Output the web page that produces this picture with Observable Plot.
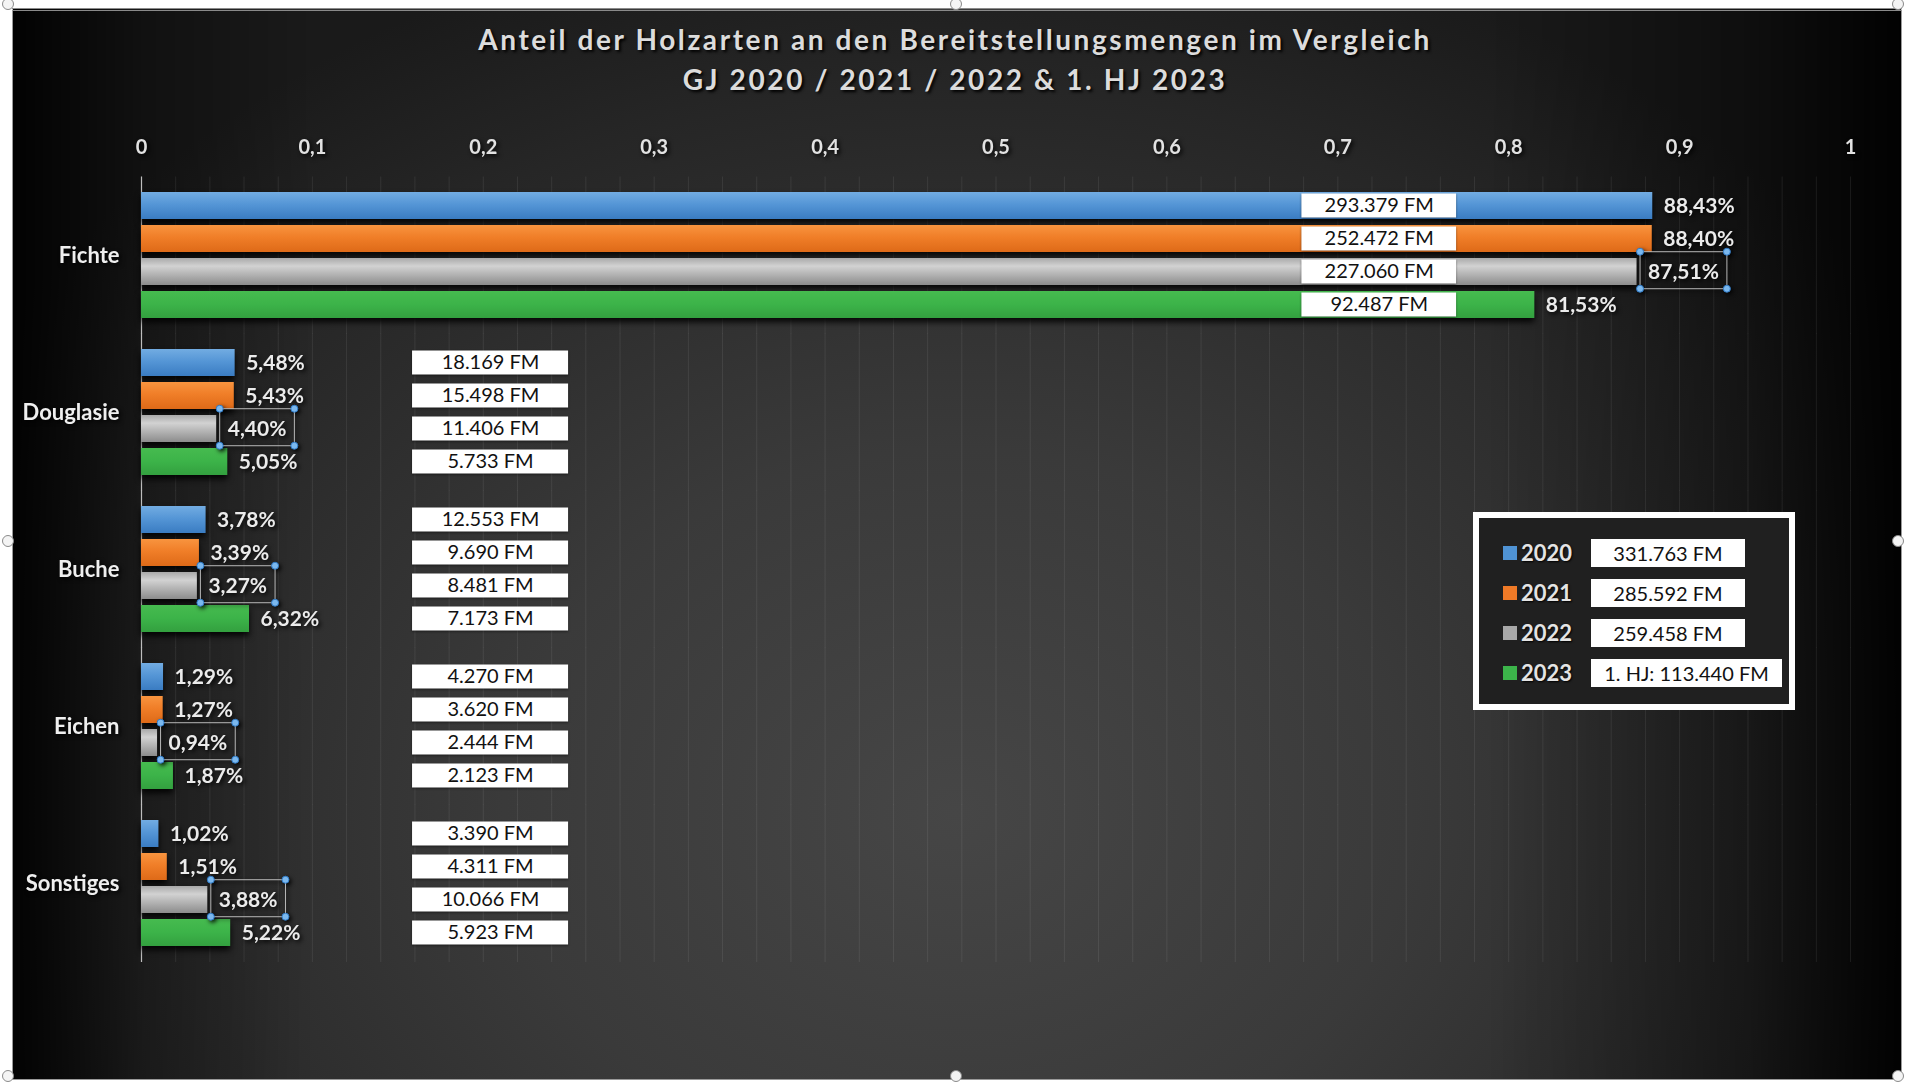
<!DOCTYPE html>
<html>
<head>
<meta charset="utf-8">
<script src="https://cdn.jsdelivr.net/npm/d3@7"></script>
<script src="https://cdn.jsdelivr.net/npm/@observablehq/plot@0.6"></script>
<style>
html, body { margin: 0; padding: 0; background: #fff; }
#page { position: relative; width: 1910px; height: 1086px; overflow: hidden; background: #fff; font-family: Lato, "Open Sans", sans-serif; }
#frame { position: absolute; left: 12px; top: 8px; width: 1890px; height: 1072px; box-sizing: border-box; border-top: 3px double #8a8a8a; border-left: 1px solid #9a9a9a; border-right: 1px solid #9a9a9a; border-bottom: 1px solid #9a9a9a;
  background:
    linear-gradient(to right, rgba(0,0,0,0.92) 0%, rgba(0,0,0,0.35) 7%, rgba(0,0,0,0) 16%, rgba(0,0,0,0) 78%, rgba(0,0,0,0.45) 92%, rgba(0,0,0,0.95) 100%),
    radial-gradient(ellipse 60% 85% at 50% 75%, #464646 0%, #3a3a3a 40%, #262626 80%, #1a1a1a 100%);
}
#title { position: absolute; left: 0; top: 19px; width: 1910px; text-align: center; color: #dcdcdc; font-weight: 700; font-size: 28px; letter-spacing: 2.6px; line-height: 40px; text-shadow: 2px 2px 3px #000; }
#chart { position: absolute; left: 0; top: 100px; }
#legend { position: absolute; left: 1473px; top: 512px; width: 322px; height: 198px; box-sizing: border-box; border: 6px solid #fff; background: #202020; }
.lrow { position: absolute; left: 0; height: 28px; }
.lsq { position: absolute; left: 24px; top: 7px; width: 14px; height: 14px; }
.lyr { position: absolute; left: 42px; top: 0; line-height: 28px; font-weight: 700; font-size: 22px; color: #e4e4e4; text-shadow: 1px 1px 2px #000; }
.lbox { position: absolute; left: 112px; top: 0; height: 28px; background: #fff; color: #111; font-size: 20px; line-height: 28px; text-align: center; }
.handle { position: absolute; width: 10px; height: 10px; border-radius: 50%; background: #f4f4f4; border: 1px solid #8a8a8a; }
g[aria-label="bar"] rect { filter: drop-shadow(0px 4px 3px rgba(0,0,0,0.9)); }
g[aria-description="fmbox"] rect { filter: drop-shadow(0px 1px 1px rgba(0,0,0,0.5)); }
g[aria-description="pct"], g[aria-description="pct-sel"] { filter: drop-shadow(2px 2px 2px rgba(0,0,0,0.9)); }
g[aria-label="x-axis tick label"] , g[aria-label="fy-axis tick label"] { filter: drop-shadow(2px 2px 2px rgba(0,0,0,0.9)); }
</style>
</head>
<body>
<svg width="0" height="0" style="position:absolute">
  <defs>
    <linearGradient id="g2020" x1="0" y1="0" x2="0" y2="1">
      <stop offset="0" stop-color="#72ace2"/><stop offset="0.45" stop-color="#5596d6"/><stop offset="1" stop-color="#3a7cc2"/>
    </linearGradient>
    <linearGradient id="g2021" x1="0" y1="0" x2="0" y2="1">
      <stop offset="0" stop-color="#f8943f"/><stop offset="0.45" stop-color="#f07e28"/><stop offset="1" stop-color="#de6a18"/>
    </linearGradient>
    <linearGradient id="g2022" x1="0" y1="0" x2="0" y2="1">
      <stop offset="0" stop-color="#a9a9a9"/><stop offset="0.3" stop-color="#d2d2d2"/><stop offset="1" stop-color="#8c8c8c"/>
    </linearGradient>
    <linearGradient id="g2023" x1="0" y1="0" x2="0" y2="1">
      <stop offset="0" stop-color="#46bb4f"/><stop offset="0.5" stop-color="#3cb349"/><stop offset="1" stop-color="#33a03f"/>
    </linearGradient>
  </defs>
</svg>
<div id="page">
  <div id="frame"></div>
  <div id="title">Anteil der Holzarten an den Bereitstellungsmengen im Vergleich<br>GJ 2020 / 2021 / 2022 &amp; 1. HJ 2023</div>
  <div id="chart"></div>
  <div id="legend"></div>
</div>
<script>
// ---- data ----
const categories = ["Fichte", "Douglasie", "Buche", "Eichen", "Sonstiges"];
const years = ["2020", "2021", "2022", "2023"];
const share2020 = [0.8843, 0.0548, 0.0378, 0.0129, 0.0102];
const share2021 = [0.8840, 0.0543, 0.0339, 0.0127, 0.0151];
const share2022 = [0.8751, 0.0440, 0.0327, 0.0094, 0.0388];
const share2023 = [0.8153, 0.0505, 0.0632, 0.0187, 0.0522];
const fm2020 = [293379, 18169, 12553, 4270, 3390];
const fm2021 = [252472, 15498, 9690, 3620, 4311];
const fm2022 = [227060, 11406, 8481, 2444, 10066];
const fm2023 = [92487, 5733, 7173, 2123, 5923];
const totals = [331763, 285592, 259458, 113440];
const totalPrefix = ["", "", "", "1. HJ: "];
const xTicks = [0, 0.1, 0.2, 0.3, 0.4, 0.5, 0.6, 0.7, 0.8, 0.9, 1];
const gridTicks = d3.range(0, 51).map(i => i / 50);

// ---- build table ----
const shares = [share2020, share2021, share2022, share2023];
const fms = [fm2020, fm2021, fm2022, fm2023];
const rows = categories.flatMap((c, i) => years.map((y, j) => ({cat: c, year: y, share: shares[j][i], fm: fms[j][i]})));

const de = d3.formatLocale({decimal: ",", thousands: ".", grouping: [3], currency: ["", " €"]});
const fmtInt = de.format(",d");
const fmtPct = de.format(".2%");
const fmtTick = d => String(d).replace(".", ",");

// label box placement (layout, in x-scale units)
const boxX1 = d => d.cat === "Fichte" ? 0.679 : 0.1586;
const boxX2 = d => d.cat === "Fichte" ? 0.7695 : 0.2499;
const boxMid = d => (boxX1(d) + boxX2(d)) / 2;

// gridlines drawn in every facet, stretched over the gaps between facets
const gap = 14.5;
const gridMarks = categories.map(c => [
  Plot.ruleX(gridTicks, {fy: () => c, stroke: "#ffffff", strokeOpacity: 0.08, strokeWidth: 1, insetTop: -gap, insetBottom: -gap + 0.5}),
  Plot.ruleX([0], {fy: () => c, stroke: "#bdbdbd", strokeWidth: 1.2, insetTop: -gap, insetBottom: -gap + 0.5})
]);

const chart = Plot.plot({
  width: 1910,
  height: 900,
  marginTop: 74,
  marginBottom: 36,
  marginLeft: 141,
  marginRight: 60,
  style: {background: "transparent", fontFamily: "Lato, 'Open Sans', sans-serif", overflow: "visible"},
  x: {domain: [0, 1]},
  y: {domain: years, paddingInner: 0.17, paddingOuter: 0, axis: null},
  fy: {domain: categories, paddingInner: 0.18, paddingOuter: 0.1},
  color: {domain: years, range: years.map(y => `url(#g${y})`)},
  marks: [
    ...gridMarks.flat(),
    Plot.barX(rows, {x: "share", y: "year", fy: "cat", fill: "year"}),
    Plot.barX(rows, {x1: boxX1, x2: boxX2, y: "year", fy: "cat", fill: "#ffffff", insetTop: 1.5, insetBottom: 1.5, ariaDescription: "fmbox"}),
    Plot.text(rows, {x: boxMid, y: "year", fy: "cat", text: d => fmtInt(d.fm) + " FM", fill: "#111", fontSize: 20, ariaDescription: "fmtext"}),
    Plot.text(rows.filter(d => d.year !== "2022"), {x: "share", y: "year", fy: "cat", text: d => fmtPct(d.share), dx: 11, textAnchor: "start", fill: "#ebebeb", fontWeight: "bold", fontSize: 21, ariaDescription: "pct"}),
    Plot.text(rows.filter(d => d.year === "2022"), {x: "share", y: "year", fy: "cat", text: d => fmtPct(d.share), dx: 11, textAnchor: "start", fill: "#ebebeb", fontWeight: "bold", fontSize: 21, ariaDescription: "pct-sel"}),
    Plot.axisX(xTicks, {anchor: "top", tickSize: 0, tickPadding: 38, tickFormat: fmtTick, fontSize: 20, fontWeight: "bold", color: "#e2e2e2", label: null}),
    Plot.axisFy({anchor: "left", tickSize: 0, tickPadding: 22, fontSize: 22, fontWeight: "bold", color: "#efefef", label: null})
  ]
});
document.getElementById("chart").append(chart);

// selection outline around the 2022 labels (as in the reference)
const NS = "http://www.w3.org/2000/svg";
chart.querySelectorAll('g[aria-description="pct-sel"] text').forEach(t => {
  const b = t.getBBox();
  const g = document.createElementNS(NS, "g");
  const tr = t.getAttribute("transform");
  if (tr) g.setAttribute("transform", tr);
  const x0 = b.x - 8, y0 = b.y - 6, w = b.width + 16, h = b.height + 12;
  const r = document.createElementNS(NS, "rect");
  r.setAttribute("x", x0); r.setAttribute("y", y0); r.setAttribute("width", w); r.setAttribute("height", h);
  r.setAttribute("fill", "none"); r.setAttribute("stroke", "#b8b8b8"); r.setAttribute("stroke-width", "1");
  g.append(r);
  [[x0, y0], [x0 + w, y0], [x0, y0 + h], [x0 + w, y0 + h]].forEach(([cx, cy]) => {
    const c = document.createElementNS(NS, "circle");
    c.setAttribute("cx", cx); c.setAttribute("cy", cy); c.setAttribute("r", 3.5);
    c.setAttribute("fill", "#7bb8ee"); c.setAttribute("stroke", "#2f7bc8"); c.setAttribute("stroke-width", "1");
    g.append(c);
  });
  t.parentNode.insertBefore(g, t);
});

// legend
const legendColors = ["#4f93d4", "#ef7a27", "#a8a8a8", "#3cb44a"];
const legend = document.getElementById("legend");
years.forEach((y, i) => {
  const row = document.createElement("div");
  row.className = "lrow";
  row.style.top = (21 + i * 40) + "px";
  row.style.width = "100%";
  const sq = document.createElement("div"); sq.className = "lsq"; sq.style.background = legendColors[i];
  const yr = document.createElement("div"); yr.className = "lyr"; yr.textContent = y;
  const bx = document.createElement("div"); bx.className = "lbox";
  bx.style.width = (i === 3 ? 191 : 154) + "px";
  bx.textContent = totalPrefix[i] + fmtInt(totals[i]) + " FM";
  row.append(sq, yr, bx);
  legend.append(row);
});

// frame selection handles
const page = document.getElementById("page");
[[7, 3], [955, 3], [1897, 3], [7, 540], [1897, 540], [7, 1075], [955, 1075], [1897, 1075]].forEach(([x, y]) => {
  const h = document.createElement("div"); h.className = "handle";
  h.style.left = (x - 5) + "px"; h.style.top = (y - 5) + "px";
  page.append(h);
});
</script>
</body>
</html>
